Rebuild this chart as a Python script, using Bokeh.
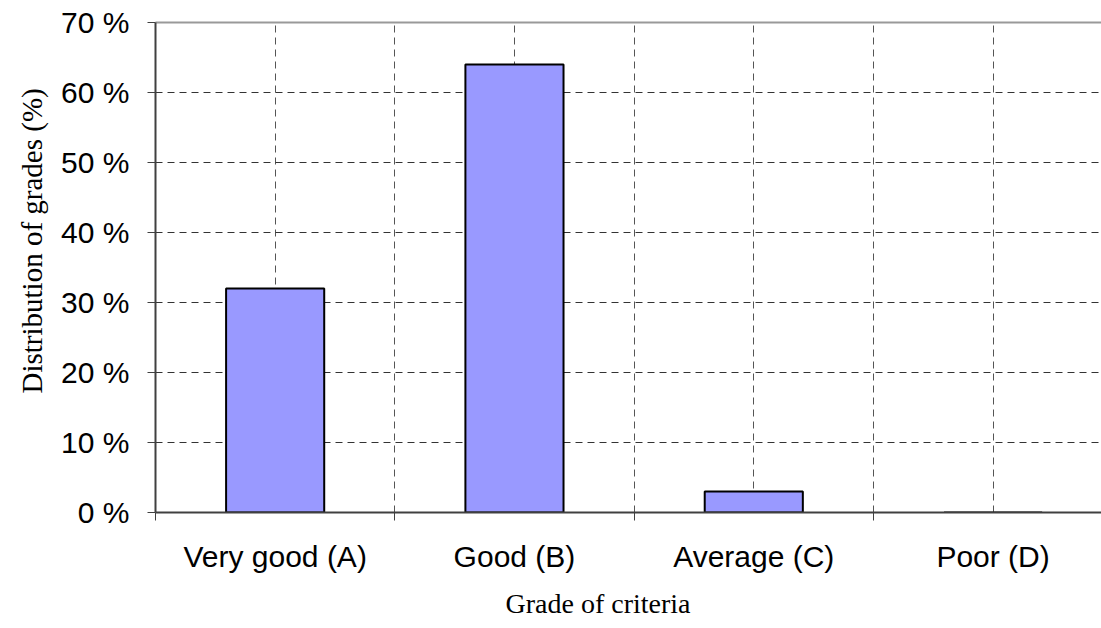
from bokeh.plotting import figure
from bokeh.models import Range1d, FixedTicker, LinearAxis, Title
from bokeh.embed import file_html
from bokeh.resources import INLINE

categories = ["Very good (A)", "Good (B)", "Average (C)", "Poor (D)"]
values = [32, 64, 3, 0]
y_ticks = [0, 10, 20, 30, 40, 50, 60, 70]
y_tick_labels = ["0 %", "10 %", "20 %", "30 %", "40 %", "50 %", "60 %", "70 %"]
x_title = "Grade of criteria"
y_title = "Distribution of grades (%)"

x_centers = [i + 0.5 for i in range(len(categories))]
x_bounds = [float(i) for i in range(len(categories) + 1)]
x_grid = sorted(set(x_centers + x_bounds))

p = figure(width=1101, height=628, output_backend="svg", toolbar_location=None,
           x_range=Range1d(0, 3.953), y_range=Range1d(0, 70),
           min_border_left=155, min_border_right=0, min_border_top=22, min_border_bottom=116)
p.outline_line_color = None
p.background_fill_color = "white"
p.border_fill_color = "white"

p.vbar(x=x_centers, top=values, width=0.41, fill_color="#9999FF",
       line_color="black", line_width=2)

axis_color = "#404040"
# x axis
xa = p.xaxis[0]
xa.ticker = FixedTicker(ticks=x_centers, minor_ticks=x_bounds)
xa.major_label_overrides = {c: lab for c, lab in zip(x_centers, categories)}
xa.major_tick_out = 0
xa.major_tick_in = 0
xa.minor_tick_out = 8
xa.minor_tick_in = 0
xa.minor_tick_line_color = axis_color
xa.minor_tick_line_width = 1
xa.axis_line_color = axis_color
xa.axis_line_width = 2
xa.major_label_text_font = "Liberation Sans"
xa.major_label_text_font_size = "30px"
xa.major_label_text_color = "black"
xa.major_label_standoff = 19

# y axis
ya = p.yaxis[0]
ya.ticker = FixedTicker(ticks=y_ticks)
ya.major_label_overrides = {t: lab for t, lab in zip(y_ticks, y_tick_labels)}
ya.minor_tick_line_color = None
ya.major_tick_out = 8
ya.major_tick_in = 0
ya.major_tick_line_color = axis_color
ya.major_tick_line_width = 1
ya.axis_line_color = axis_color
ya.axis_line_width = 2
ya.major_label_text_font = "Liberation Sans"
ya.major_label_text_font_size = "30px"
ya.major_label_text_color = "black"
ya.major_label_standoff = 18

# top border line
top = LinearAxis(ticker=FixedTicker(ticks=[]), major_tick_out=0, major_tick_in=0,
                 minor_tick_out=0, minor_tick_in=0,
                 axis_line_color="#999999", axis_line_width=2, major_label_standoff=0)
p.add_layout(top, "above")

# axis titles
p.add_layout(Title(text=x_title, align="left", offset=350, standoff=20,
                   text_font="Liberation Serif", text_font_size="28px",
                   text_font_style="normal", text_color="black"), "below")
p.add_layout(Title(text=y_title, align="left", offset=119, standoff=22,
                   text_font="Liberation Serif", text_font_size="29px",
                   text_font_style="normal", text_color="black"), "left")

# grids
p.ygrid.ticker = FixedTicker(ticks=y_ticks)
p.ygrid.grid_line_color = "#333333"
p.ygrid.grid_line_dash = "7 5"
p.ygrid.grid_line_width = 1
p.xgrid.ticker = FixedTicker(ticks=x_grid)
p.xgrid.grid_line_color = "#555555"
p.xgrid.grid_line_dash = "7 5"
p.xgrid.grid_line_width = 1

open("out.html", "w").write(file_html(p, INLINE))
